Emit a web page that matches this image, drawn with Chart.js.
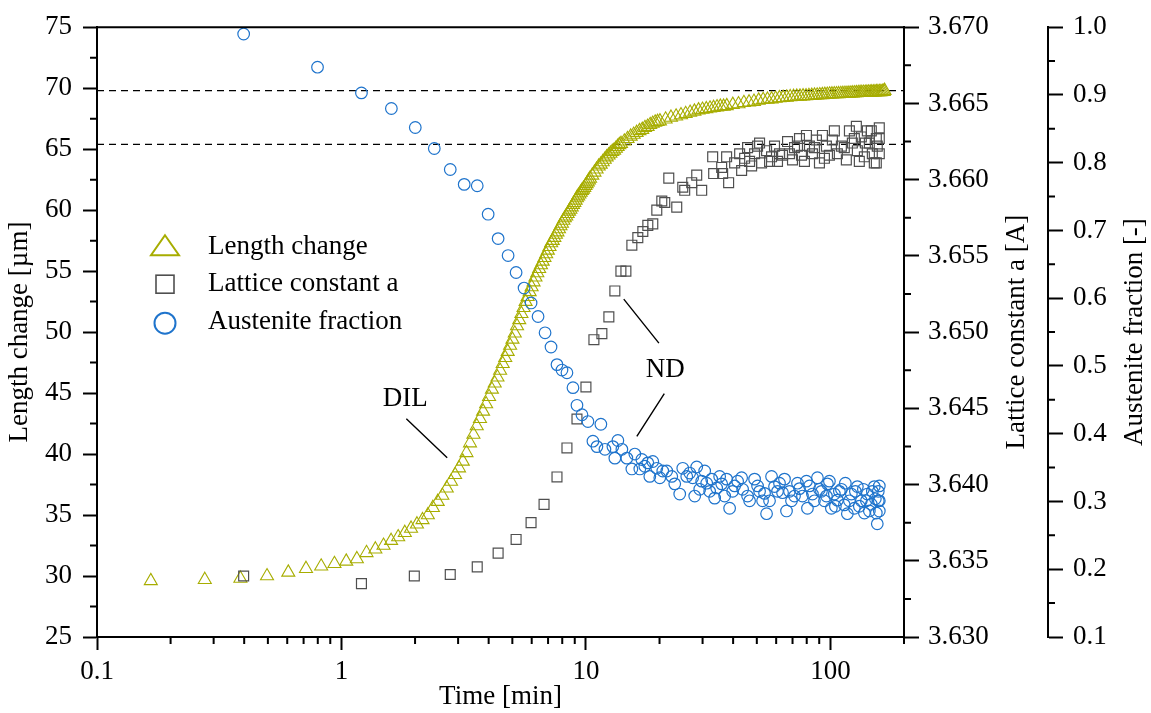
<!DOCTYPE html>
<html>
<head>
<meta charset="utf-8">
<script src="https://cdn.jsdelivr.net/npm/chart.js@4.4.1/dist/chart.umd.min.js"></script>
<style>
  html, body { margin: 0; padding: 0; background: #fff; }
  #wrap { width: 1151px; height: 713px; }
</style>
</head>
<body>
<div id="wrap"><canvas id="chart" width="1151" height="713"></canvas></div>
<script>
// Dilatometer: length change [µm] vs time [min]
const lengthTime = [
  0.166, 0.276, 0.386, 0.496, 0.606, 0.716, 0.826, 0.936, 1.046, 1.156,
  1.266, 1.376, 1.486, 1.596, 1.706, 1.816, 1.926, 2.036, 2.146, 2.256,
  2.366, 2.476, 2.586, 2.696, 2.806, 2.916, 3.026, 3.136, 3.246, 3.356,
  3.466, 3.576, 3.686, 3.796, 3.906, 4.016, 4.126, 4.236, 4.346, 4.456,
  4.566, 4.676, 4.786, 4.896, 5.006, 5.116, 5.226, 5.336, 5.446, 5.556,
  5.666, 5.776, 5.886, 5.996, 6.106, 6.216, 6.326, 6.436, 6.546, 6.656,
  6.766, 6.876, 6.986, 7.096, 7.206, 7.316, 7.426, 7.536, 7.646, 7.756,
  7.866, 7.976, 8.086, 8.196, 8.306, 8.416, 8.526, 8.636, 8.746, 8.856,
  8.966, 9.076, 9.186, 9.296, 9.406, 9.516, 9.626, 9.736, 9.846, 9.956,
  10.066, 10.176, 10.286, 10.396, 10.616, 10.836, 11.056, 11.276, 11.496, 11.716,
  11.936, 12.156, 12.376, 12.596, 12.816, 13.036, 13.256, 13.476, 13.696, 13.916,
  14.356, 14.796, 15.236, 15.676, 16.116, 16.556, 16.996, 17.436, 17.876, 18.316,
  18.756, 19.196, 19.636, 20.076, 21.176, 22.276, 23.376, 24.476, 25.576, 26.676,
  27.776, 28.876, 29.976, 31.076, 32.176, 33.276, 34.376, 35.476, 36.576, 37.676,
  39.876, 42.076, 44.276, 46.476, 48.676, 50.876, 53.076, 55.276, 57.476, 59.676,
  61.876, 64.076, 66.276, 68.476, 70.676, 72.876, 75.076, 77.276, 79.476, 81.676,
  83.876, 86.076, 88.276, 90.476, 92.676, 94.876, 97.076, 99.276, 101.476, 103.676,
  105.876, 108.076, 110.276, 112.476, 114.676, 116.876, 119.076, 121.276, 123.476, 125.676,
  127.876, 130.076, 132.276, 134.476, 136.676, 138.876, 141.076, 143.276, 145.476, 147.676,
  149.876, 152.076, 154.276, 156.476, 158.676, 160.876, 163.076, 165.276, 166.5
];
const lengthChange = [
  29.6, 29.7, 29.8, 30.0, 30.3, 30.6, 30.8, 31.0, 31.2, 31.4,
  31.9, 32.2, 32.5, 32.9, 33.2, 33.55, 33.9, 34.25, 34.6, 35.0,
  35.6, 36.1, 36.6, 37.2, 37.75, 38.3, 38.85, 39.4, 40.1, 40.9,
  41.6, 42.3, 42.9, 43.5, 44.1, 44.7, 45.3, 45.8, 46.3, 46.85,
  47.4, 47.9, 48.4, 48.9, 49.4, 49.9, 50.5, 51.0, 51.5, 52.0,
  52.5, 52.9, 53.3, 53.7, 54.1, 54.5, 54.85, 55.2, 55.5, 55.8,
  56.1, 56.4, 56.7, 57.0, 57.3, 57.5, 57.75, 58.0, 58.2, 58.45,
  58.7, 58.9, 59.15, 59.35, 59.5, 59.7, 59.9, 60.05, 60.25, 60.45,
  60.6, 60.8, 61.0, 61.15, 61.3, 61.45, 61.6, 61.7, 61.85, 62.0,
  62.15, 62.3, 62.45, 62.6, 62.85, 63.1, 63.35, 63.6, 63.75, 63.95,
  64.15, 64.35, 64.5, 64.65, 64.8, 64.9, 65.05, 65.2, 65.35, 65.45,
  65.65, 65.85, 66.05, 66.2, 66.35, 66.5, 66.6, 66.75, 66.85, 67.0,
  67.1, 67.2, 67.25, 67.3, 67.45, 67.6, 67.7, 67.8, 67.9, 68.0,
  68.1, 68.2, 68.25, 68.3, 68.35, 68.4, 68.45, 68.5, 68.5, 68.55,
  68.65, 68.7, 68.8, 68.85, 68.9, 69.0, 69.05, 69.08, 69.1, 69.15,
  69.2, 69.22, 69.25, 69.28, 69.3, 69.32, 69.33, 69.35, 69.36, 69.38,
  69.39, 69.41, 69.42, 69.44, 69.45, 69.47, 69.48, 69.5, 69.51, 69.52,
  69.52, 69.53, 69.54, 69.55, 69.56, 69.56, 69.57, 69.58, 69.59, 69.6,
  69.61, 69.62, 69.63, 69.63, 69.64, 69.64, 69.65, 69.66, 69.66, 69.67,
  69.67, 69.68, 69.69, 69.69, 69.7, 69.7, 69.71, 69.72, 69.8
];

// Neutron diffraction: lattice constant a [A]
const latticeTime = [
  0.398, 1.207, 1.986, 2.786, 3.592, 4.373, 5.18, 5.964, 6.74, 7.613,
  8.362, 9.19, 10.0, 10.78, 11.62, 12.41, 13.13, 13.9, 14.57, 15.41,
  16.3, 17.09, 17.91, 18.77, 19.49, 20.43, 21.01, 21.82, 23.52, 24.89,
  25.35, 27.08, 28.39, 29.75, 33.3, 32.99, 35.91, 36.24, 37.62, 38.34,
  40.57, 43.33, 44.57, 45.83, 47.61, 48.96, 50.35, 52.28, 54.81, 57.44,
  59.07, 60.76, 63.71, 66.77, 68.03, 69.97, 73.35, 76.15, 78.32, 79.8,
  82.09, 84.43, 87.68, 90.19, 92.77, 96.31, 99.06, 101.9, 106.8, 110.9,
  116.2, 119.6, 122.95, 127.7, 128.9, 133.8, 137.7, 141.6, 144.3, 148.4,
  154.1, 155.5, 154.1, 158.5, 42.53, 46.71, 51.31, 56.36, 61.91, 71.31,
  74.73, 86.04, 94.52, 103.8, 114.0, 125.3, 131.3, 139.0, 147.0, 151.2,
  158.5, 158.5
];
const latticeConst = [
  3.6340, 3.6335, 3.6340, 3.6341, 3.6346, 3.6355, 3.6364, 3.6375, 3.6387, 3.6405,
  3.6424, 3.6443, 3.6464, 3.6495, 3.6499, 3.6510, 3.6527, 3.6540, 3.6540, 3.6557,
  3.6562, 3.6566, 3.6570, 3.6571, 3.6580, 3.6586, 3.6585, 3.6601, 3.6582, 3.6595,
  3.6593, 3.6598, 3.6603, 3.6593, 3.6604, 3.6615, 3.6608, 3.6604, 3.6615, 3.6598,
  3.6611, 3.6606, 3.6614, 3.6621, 3.6609, 3.6617, 3.6622, 3.6611, 3.6619, 3.6615,
  3.6622, 3.6612, 3.6616, 3.6625, 3.6617, 3.6613, 3.6622, 3.6616, 3.6612, 3.6629,
  3.6622, 3.6617, 3.6626, 3.6611, 3.6629, 3.6622, 3.6616, 3.6626, 3.6617, 3.6622,
  3.6613, 3.6632, 3.6624, 3.6635, 3.6619, 3.6628, 3.6615, 3.6632, 3.6624, 3.6617,
  3.6627, 3.6622, 3.6611, 3.6627, 3.6617, 3.6612, 3.6624, 3.6612, 3.6617, 3.6621,
  3.6627, 3.6621, 3.6614, 3.6632, 3.6621, 3.6627, 3.6612, 3.6624, 3.6632, 3.6611,
  3.6617, 3.6634
];

// Neutron diffraction: austenite fraction [-]
const austTime = [
  0.398, 0.798, 1.207, 1.6, 2.004, 2.397, 2.786, 3.177, 3.592, 3.981,
  4.373, 4.804, 5.18, 5.584, 5.964, 6.37, 6.804, 7.197, 7.613, 7.98,
  8.362, 8.85, 9.19, 9.632, 10.19, 11.51, 10.68, 11.09, 11.96, 12.89,
  13.51, 14.03, 13.13, 14.7, 15.85, 15.41, 16.93, 16.61, 17.91, 18.77,
  19.49, 20.05, 21.41, 22.44, 23.08, 24.89, 25.84, 24.19, 27.33, 28.39,
  30.6, 27.86, 29.2, 31.18, 32.68, 34.25, 35.91, 33.61, 37.62, 38.7,
  39.81, 41.73, 43.33, 43.74, 45.83, 48.96, 51.31, 52.78, 54.81, 57.44,
  59.07, 61.91, 63.71, 66.13, 68.03, 71.31, 74.73, 79.8, 80.55, 84.43,
  88.49, 91.91, 94.52, 97.23, 100.9, 103.8, 106.8, 110.9, 114.0, 117.3,
  121.8, 125.3, 128.9, 133.8, 137.7, 141.6, 147.0, 151.2, 154.1, 157.0,
  157.0, 155.5, 26.58, 29.75, 32.07, 35.23, 36.93, 40.57, 46.71, 50.35,
  53.78, 56.36, 60.76, 64.89, 69.31, 73.35, 76.86, 82.09, 86.04, 90.19,
  96.31, 99.06, 104.8, 108.8, 115.1, 119.6, 126.5, 131.3, 136.4, 140.3,
  144.3, 148.4, 152.7, 158.5, 158.5, 158.5, 17.41, 20.62, 18.25
];
const austFraction = [
  0.990, 0.941, 0.903, 0.880, 0.852, 0.821, 0.790, 0.768, 0.766, 0.724,
  0.688, 0.663, 0.638, 0.615, 0.593, 0.573, 0.549, 0.528, 0.502, 0.494,
  0.490, 0.468, 0.442, 0.428, 0.418, 0.414, 0.389, 0.381, 0.377, 0.381,
  0.390, 0.377, 0.364, 0.364, 0.370, 0.348, 0.362, 0.348, 0.357, 0.359,
  0.349, 0.335, 0.345, 0.337, 0.326, 0.349, 0.337, 0.311, 0.335, 0.351,
  0.345, 0.308, 0.318, 0.327, 0.333, 0.320, 0.326, 0.305, 0.333, 0.290,
  0.315, 0.330, 0.335, 0.318, 0.308, 0.333, 0.315, 0.301, 0.282, 0.337,
  0.322, 0.327, 0.313, 0.286, 0.315, 0.308, 0.319, 0.330, 0.290, 0.311,
  0.335, 0.315, 0.301, 0.326, 0.290, 0.311, 0.302, 0.318, 0.295, 0.282,
  0.311, 0.290, 0.322, 0.301, 0.283, 0.311, 0.296, 0.322, 0.283, 0.315,
  0.301, 0.267, 0.342, 0.330, 0.315, 0.337, 0.308, 0.323, 0.301, 0.323,
  0.312, 0.301, 0.315, 0.333, 0.301, 0.327, 0.308, 0.323, 0.301, 0.318,
  0.308, 0.330, 0.293, 0.315, 0.327, 0.301, 0.315, 0.293, 0.318, 0.301,
  0.286, 0.315, 0.304, 0.301, 0.323, 0.286, 0.352, 0.345, 0.337
];

// axis ticks
const timeTicks = [0.1, 1, 10, 100];
const lengthTicks = [25, 30, 35, 40, 45, 50, 55, 60, 65, 70, 75];
const latticeTicks = [3.630, 3.635, 3.640, 3.645, 3.650, 3.655, 3.660, 3.665, 3.670];
const fractionTicks = [0.1, 0.2, 0.3, 0.4, 0.5, 0.6, 0.7, 0.8, 0.9, 1.0];

// dashed reference levels (length change axis)
const refLevels = [69.8, 65.4];

// text annotations and their leader lines, in data units (time, length change)
const notes = [
  { text: 'DIL', t: 1.824, v: 44.5 },
  { text: 'ND', t: 21.1, v: 46.9 }
];
const leaders = [
  [[1.842, 42.9], [2.707, 39.7]],
  [[14.28, 52.7], [19.88, 49.1]],
  [[20.92, 44.95], [16.15, 41.45]]
];

const OLIVE = '#a7ad00';
const GREY = '#4f4f4f';
const BLUE = '#1f74cc';
const FONT = '"Liberation Serif", "Times New Roman", serif';

Chart.defaults.font.family = FONT;
Chart.defaults.font.size = 27;
Chart.defaults.color = '#000';

function pts(xs, ys) {
  return xs.map((x, i) => ({ x: x, y: ys[i] }));
}

function fixTicks(list) {
  return function (scale) {
    scale.ticks = list.map(v => ({ value: v }));
  };
}

const axisGrid = { drawOnChartArea: false, drawTicks: true, tickLength: 14, tickWidth: 2, tickColor: '#000' };
const axisBorder = { display: true, color: '#000', width: 2 };

// frame, minor ticks, right-hand titles, notes and legend
const overlay = {
  id: 'overlay',
  afterDraw(chart) {
    const ctx = chart.ctx;
    const a = chart.chartArea;
    const sx = chart.scales.x, sy = chart.scales.y, sy1 = chart.scales.y1, sy2 = chart.scales.y2;

    ctx.save();
    ctx.strokeStyle = '#000';
    ctx.lineWidth = 2;
    ctx.beginPath();
    ctx.moveTo(a.left - 1, a.top);
    ctx.lineTo(a.right + 1, a.top);
    ctx.stroke();

    // minor ticks
    ctx.beginPath();
    timeTicks.forEach(d => {
      for (let m = 2; m <= 9; m++) {
        const v = d * m;
        if (v > sx.max) break;
        const px = sx.getPixelForValue(v);
        ctx.moveTo(px, a.bottom);
        ctx.lineTo(px, a.bottom + 7);
      }
    });
    const mids = (list, fn) => {
      for (let i = 0; i < list.length - 1; i++) fn((list[i] + list[i + 1]) / 2);
    };
    mids(lengthTicks, v => {
      const py = sy.getPixelForValue(v);
      ctx.moveTo(a.left, py);
      ctx.lineTo(a.left - 7, py);
    });
    mids(latticeTicks, v => {
      const py = sy1.getPixelForValue(v);
      ctx.moveTo(sy1.left, py);
      ctx.lineTo(sy1.left + 7, py);
    });
    mids(fractionTicks, v => {
      const py = sy2.getPixelForValue(v);
      ctx.moveTo(sy2.left, py);
      ctx.lineTo(sy2.left + 7, py);
    });
    ctx.stroke();

    // right axis titles read bottom-to-top like the left one
    ctx.fillStyle = '#000';
    ctx.font = '27px ' + FONT;
    ctx.textAlign = 'center';
    ctx.textBaseline = 'middle';
    const midY = (a.top + a.bottom) / 2;
    [[sy1.right - 31, 'Lattice constant a [A]'], [sy2.right - 16, 'Austenite fraction [-]']].forEach(([xc, txt]) => {
      ctx.save();
      ctx.translate(xc, midY);
      ctx.rotate(-Math.PI / 2);
      ctx.fillText(txt, 0, 0);
      ctx.restore();
    });

    // notes
    notes.forEach(n => {
      ctx.fillText(n.text, sx.getPixelForValue(n.t), sy.getPixelForValue(n.v));
    });
    ctx.lineWidth = 1.4;
    ctx.beginPath();
    leaders.forEach(([p, q]) => {
      ctx.moveTo(sx.getPixelForValue(p[0]), sy.getPixelForValue(p[1]));
      ctx.lineTo(sx.getPixelForValue(q[0]), sy.getPixelForValue(q[1]));
    });
    ctx.stroke();

    // legend
    const lx = a.left + 68;
    const rows = [a.top + 219, a.top + 257, a.top + 296];
    ctx.lineWidth = 2;
    ctx.strokeStyle = OLIVE;
    ctx.beginPath();
    ctx.moveTo(lx, rows[0] - 11);
    ctx.lineTo(lx + 14, rows[0] + 9);
    ctx.lineTo(lx - 14, rows[0] + 9);
    ctx.closePath();
    ctx.stroke();
    ctx.lineWidth = 1.6;
    ctx.strokeStyle = GREY;
    ctx.strokeRect(lx - 9, rows[1] - 9, 18, 18);
    ctx.lineWidth = 2;
    ctx.strokeStyle = BLUE;
    ctx.beginPath();
    ctx.arc(lx, rows[2], 10.5, 0, Math.PI * 2);
    ctx.stroke();
    ctx.textAlign = 'left';
    ctx.fillText('Length change', a.left + 111, rows[0] + 1);
    ctx.fillText('Lattice constant a', a.left + 111, rows[1]);
    ctx.fillText('Austenite fraction', a.left + 111, rows[2] - 1);
    ctx.restore();
  }
};

const ctx = document.getElementById('chart').getContext('2d');
const chart = new Chart(ctx, {
  type: 'scatter',
  data: {
    datasets: [{
      label: 'Austenite fraction',
      data: pts(austTime, austFraction),
      yAxisID: 'y2',
      pointStyle: 'circle',
      pointRadius: 5.8,
      pointBorderWidth: 1.2,
      pointBorderColor: BLUE,
      pointBackgroundColor: 'rgba(0,0,0,0)'
    }, {
      label: 'Lattice constant a',
      data: pts(latticeTime, latticeConst),
      yAxisID: 'y1',
      pointStyle: 'rect',
      pointRadius: 7,
      pointBorderWidth: 1.2,
      pointBorderColor: GREY,
      pointBackgroundColor: 'rgba(0,0,0,0)'
    }, {
      label: 'Length change',
      data: pts(lengthTime, lengthChange),
      yAxisID: 'y',
      pointStyle: 'triangle',
      pointRadius: 7.5,
      pointBorderWidth: 1.1,
      pointBorderColor: OLIVE,
      pointBackgroundColor: 'rgba(0,0,0,0)'
    }].concat(refLevels.map(v => ({
      label: 'ref ' + v,
      data: [{ x: 0.1, y: v }, { x: 200, y: v }],
      yAxisID: 'y',
      showLine: true,
      borderColor: '#000',
      borderWidth: 1.3,
      borderDash: [7, 5],
      pointRadius: 0
    })))
  },
  options: {
    responsive: false,
    animation: false,
    devicePixelRatio: 1,
    layout: { padding: { top: 23, left: 0, right: 0, bottom: 0 } },
    plugins: {
      legend: { display: false },
      tooltip: { enabled: false }
    },
    scales: {
      x: {
        type: 'logarithmic',
        position: 'bottom',
        min: 0.1,
        max: 200,
        afterBuildTicks: fixTicks(timeTicks),
        afterFit: s => { s.height = 76; },
        grid: Object.assign({}, axisGrid, { tickLength: 13 }),
        border: axisBorder,
        ticks: { padding: 6, maxRotation: 0, autoSkip: false, callback: v => String(v) },
        title: { display: true, text: 'Time [min]', padding: { top: 0, bottom: 0 } }
      },
      y: {
        position: 'left',
        min: 25,
        max: 75,
        afterBuildTicks: fixTicks(lengthTicks),
        afterFit: s => { s.width = 97; },
        grid: axisGrid,
        border: axisBorder,
        ticks: { padding: 11, callback: v => String(v) },
        title: { display: true, text: 'Length change [µm]', padding: { top: 4, bottom: 0 } }
      },
      y1: {
        position: 'right',
        weight: 1,
        min: 3.63,
        max: 3.67,
        afterBuildTicks: fixTicks(latticeTicks),
        afterFit: s => { s.width = 144; },
        grid: Object.assign({}, axisGrid, { tickLength: 15 }),
        border: axisBorder,
        ticks: { padding: 9, callback: v => Number(v).toFixed(3) }
      },
      y2: {
        position: 'right',
        weight: 2,
        min: 0.1,
        max: 1.0,
        afterBuildTicks: fixTicks(fractionTicks),
        afterFit: s => { s.width = 103; },
        grid: Object.assign({}, axisGrid, { tickLength: 15 }),
        border: axisBorder,
        ticks: { padding: 10, callback: v => Number(v).toFixed(1) }
      }
    }
  },
  plugins: [overlay]
});
</script>
</body>
</html>
